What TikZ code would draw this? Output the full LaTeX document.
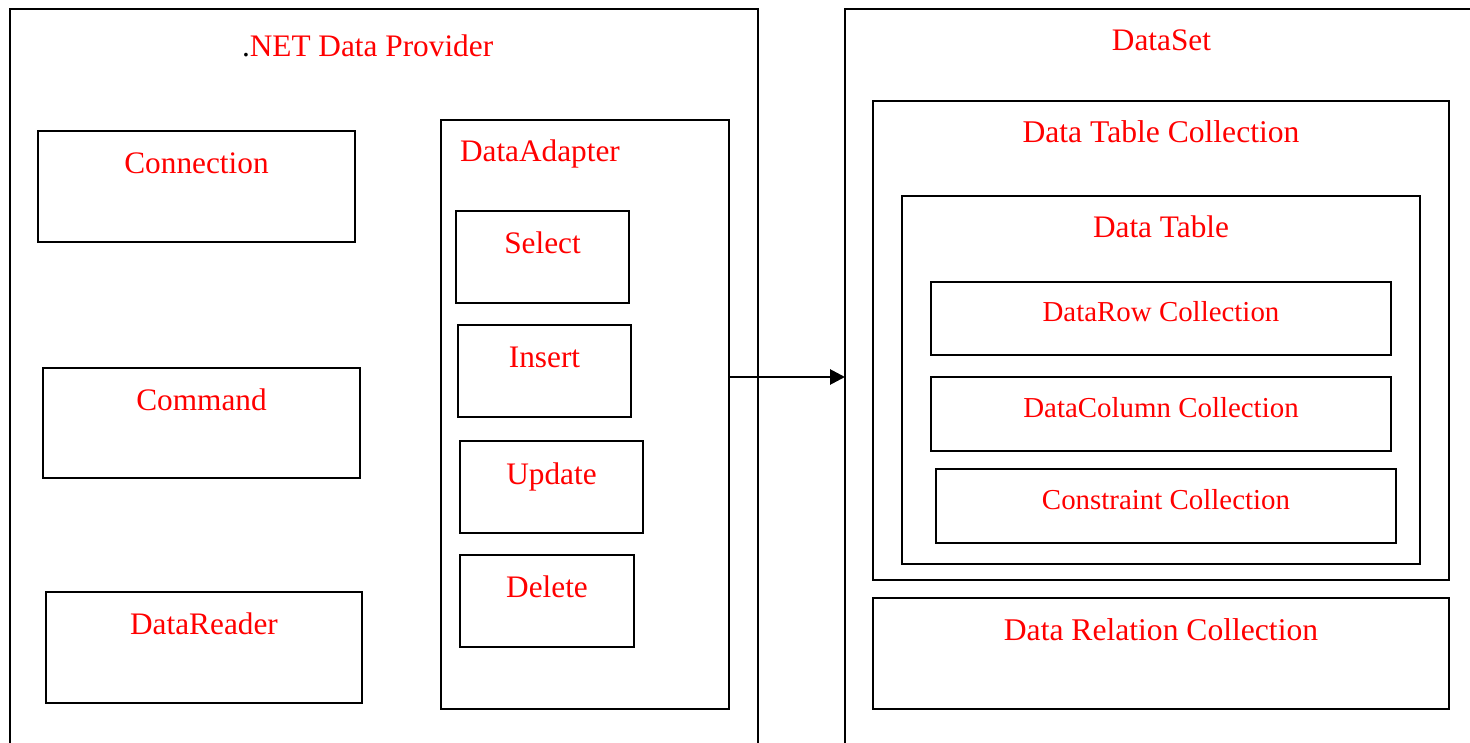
\documentclass[tikz,border=0pt]{standalone}
\usepackage{fontspec}
\setmainfont{Liberation Serif}
\usetikzlibrary{arrows.meta}
\definecolor{lbl}{RGB}{255,0,0}
\tikzset{
  box/.style={draw=black, line width=2pt, anchor=north west, inner sep=0pt, outer sep=0pt},
  txt/.style={text=lbl, anchor=base, inner sep=0pt, outer sep=0pt, font=\fontsize{31.3}{36}\selectfont},
  bigtxt/.style={txt, font=\fontsize{31.6}{36}\selectfont},
  smalltxt/.style={txt, font=\fontsize{28.9}{34}\selectfont},
  flow/.style={line width=2.8pt, -{Triangle[length=15pt,width=15pt]}},
}
\begin{document}
\begin{tikzpicture}[x=1pt,y=-1pt]
\useasboundingbox (0,0) rectangle (1470,743);
\clip (0,0) rectangle (1470,743);

% ---- .NET Data Provider ----
\node[box, minimum width=748pt, minimum height=780pt] (prov) at (10,9) {};
\node[txt, anchor=base west] (provT) at (242,57) {\textcolor{black}{.}NET Data Provider};

\node[box, minimum width=317pt, minimum height=111pt] (conn) at (38,131) {};
\node[txt] (connT) at (196.5,174) {Connection};

\node[box, minimum width=317pt, minimum height=110pt] (cmd) at (43,368) {};
\node[txt] (cmdT) at (201.5,410) {Command};

\node[box, minimum width=316pt, minimum height=111pt] (rdr) at (46,592) {};
\node[txt] (rdrT) at (204,634) {DataReader};

\node[box, minimum width=288pt, minimum height=589pt] (da) at (441,120) {};
\node[txt, anchor=base west] (daT) at (460,162) {DataAdapter};

\node[box, minimum width=173pt, minimum height=92pt] (sel) at (456,211) {};
\node[txt] (selT) at (542.5,254) {Select};

\node[box, minimum width=173pt, minimum height=92pt] (ins) at (458,325) {};
\node[txt] (insT) at (544.5,367) {Insert};

\node[box, minimum width=183pt, minimum height=92pt] (upd) at (460,441) {};
\node[txt] (updT) at (551.5,484) {Update};

\node[box, minimum width=174pt, minimum height=92pt] (del) at (460,555) {};
\node[txt] (delT) at (547,597) {Delete};

% ---- DataSet ----
\node[box, minimum width=700pt, minimum height=780pt] (ds) at (845,9) {};
\node[txt] (dsT) at (1161.5,51) {DataSet};

\node[box, minimum width=576pt, minimum height=479pt] (dtc) at (873,101) {};
\node[bigtxt] (dtcT) at (1161,143) {Data Table Collection};

\node[box, minimum width=518pt, minimum height=368pt] (dt) at (902,196) {};
\node[txt] (dtT) at (1161,238) {Data Table};

\node[box, minimum width=460pt, minimum height=73pt] (row) at (931,282) {};
\node[smalltxt] (rowT) at (1161,322) {DataRow Collection};

\node[box, minimum width=460pt, minimum height=74pt] (col) at (931,377) {};
\node[smalltxt] (colT) at (1161,417) {DataColumn Collection};

\node[box, minimum width=460pt, minimum height=74pt] (cons) at (936,469) {};
\node[smalltxt] (consT) at (1166,509) {Constraint Collection};

\node[box, minimum width=576pt, minimum height=111pt] (rel) at (873,598) {};
\node[bigtxt] (relT) at (1161,640) {Data Relation Collection};

% ---- adapter fills the data set ----
\coordinate (lane) at (0,377);
\draw[flow] (da.east |- lane) -- (ds.west |- lane);
\end{tikzpicture}
\end{document}
